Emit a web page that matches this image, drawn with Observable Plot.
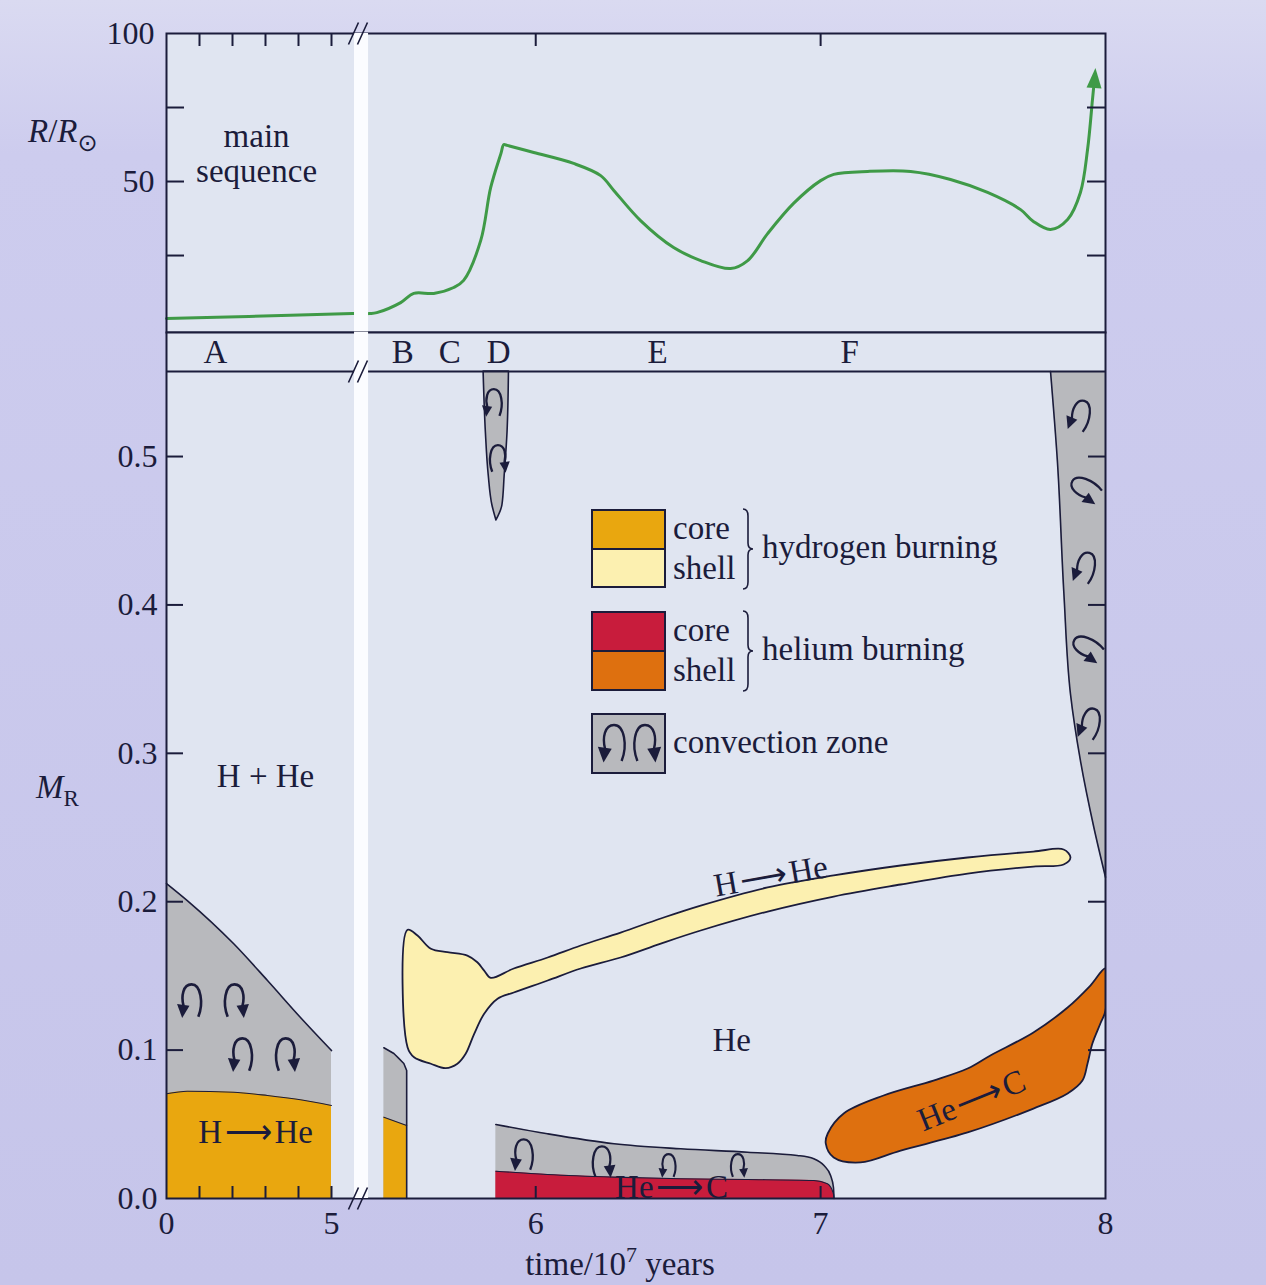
<!DOCTYPE html>
<html><head><meta charset="utf-8">
<script src="https://cdn.jsdelivr.net/npm/d3@7"></script>
<script src="https://cdn.jsdelivr.net/npm/@observablehq/plot@0.6"></script>
<style>
html,body{margin:0;padding:0;}
body{width:1266px;height:1285px;overflow:hidden;background:linear-gradient(180deg,#dadaf1 0%,#cdccee 12%,#c6c5ea 100%);font-family:"Liberation Serif","Times New Roman",serif;color:#1b1c3b;}
#stage{position:relative;width:1266px;height:1285px;}
#stage > svg{position:absolute;left:0;top:0;}
.lbl{position:absolute;white-space:nowrap;line-height:1;}
.box{position:absolute;border:2px solid #1b1c3b;box-sizing:border-box;}
</style></head><body><div id="stage"></div>
<script>
// ---------------- data ----------------
// time axis (10^7 yr) is broken: 0–5 compressed, then 5.42–8 expanded
const timeBreaks = [0, 5, 5.42, 8];
const breakGap = [5.248, 5.399];
const breakMark = 5.312;
const timeTicks = [1, 2, 3, 4, 5, 6, 7];
const timeLabels = [0, 5, 6, 7, 8];

// top panel: radius R/Rsun
const radiusTicks = [25, 50, 75];
const radiusLabels = [50, 100];
const radiusTime = [0, 2.5, 5.226, 5.414, 5.442, 5.526, 5.572, 5.642, 5.712, 5.747, 5.807, 5.842, 5.878, 5.888, 5.900, 5.993, 6.133, 6.228, 6.274, 6.368, 6.484, 6.579, 6.684, 6.744, 6.814, 6.905, 7.000, 7.046, 7.165, 7.316, 7.456, 7.586, 7.702, 7.747, 7.807, 7.867, 7.912, 7.937, 7.954, 7.958];
const radiusValue = [3.7, 4.4, 5.4, 5.4, 5.7, 9.1, 12.2, 12.2, 14.2, 16.6, 30.1, 48.0, 59.5, 62.5, 62.2, 59.8, 56.1, 52.0, 47.0, 36.8, 27.7, 23.3, 20.6, 23.3, 32.4, 42.6, 50.3, 52.4, 53.4, 53.4, 50.7, 46.3, 40.5, 36.5, 33.8, 37.2, 46.3, 60.8, 77.4, 81.4];
const radiusArrowTip = [7.962, 84.6];
const mainSeqLabel = ["main\nsequence", 2.73, 59.6];

// phases
const phaseLabels = ["A", "B", "C", "D", "E", "F"];
const phaseTime = [1.485, 5.533, 5.698, 5.870, 6.428, 7.102];

// bottom panel: mass coordinate M_R
const massTop = 0.5573;
const massTicks = [0.1, 0.2, 0.3, 0.4, 0.5];
const massLabels = [0, 0.1, 0.2, 0.3, 0.4, 0.5];

// main-sequence convective core and H-burning core
const msConvT = [0, 0.63, 2.03, 3.06, 4.06, 5];
const msConvM = [0.2123, 0.2008, 0.1718, 0.1469, 0.1220, 0.0997];
const msCoreT = [0, 0.63, 2.03, 3.06, 4.06, 5];
const msCoreM = [0.0706, 0.0723, 0.0716, 0.0694, 0.0665, 0.0627];
// phase B
const bConvT = [5.467, 5.502, 5.537, 5.547];
const bConvM = [0.1016, 0.0977, 0.0910, 0.0863];
const bCoreT = [5.467, 5.547];
const bCoreM = [0.0548, 0.0492];
// hydrogen-burning shell (closed outline)
const hShellT = [5.550,5.585,5.632,5.690,5.760,5.795,5.819,5.842,5.923,6.042,6.158,6.298,6.439,6.579,6.814,7.046,7.281,7.516,7.747,7.853,7.877,7.853,7.747,7.516,7.281,7.046,6.814,6.579,6.439,6.298,6.158,6.042,5.923,5.866,5.819,5.784,5.754,5.725,5.684,5.632,5.573,5.550];
const hShellM = [0.1811,0.1772,0.1683,0.1660,0.1637,0.1592,0.1536,0.1487,0.1550,0.1624,0.1705,0.1792,0.1887,0.1974,0.2096,0.2177,0.2244,0.2298,0.2338,0.2352,0.2298,0.2251,0.2237,0.2190,0.2116,0.2035,0.1934,0.1806,0.1718,0.1624,0.1550,0.1469,0.1388,0.1346,0.1245,0.1110,0.0975,0.0908,0.0878,0.0908,0.0952,0.1020];
// helium-burning core with convective zone
const heConvT = [5.860, 6.041, 6.275, 6.509, 6.743, 6.918, 6.976, 7.012, 7.035, 7.045, 7.047];
const heConvM = [0.0499, 0.0436, 0.0369, 0.0335, 0.0312, 0.0290, 0.0268, 0.0222, 0.0155, 0.0076, 0];
const heCoreT = [5.860, 6.041, 6.275, 6.509, 6.743, 6.976, 7.024, 7.045, 7.047];
const heCoreM = [0.0184, 0.0162, 0.0144, 0.0133, 0.0128, 0.0121, 0.0099, 0.0032, 0];
// helium-burning shell (closed outline)
const heShellT = [7.025,7.081,7.221,7.396,7.516,7.596,7.747,7.867,7.947,8.000,8.000,7.982,7.954,7.937,7.919,7.867,7.747,7.516,7.281,7.140,7.046,7.018];
const heShellM = [0.0438,0.0573,0.0694,0.0795,0.0876,0.0964,0.1119,0.1287,0.1435,0.1550,0.1267,0.1179,0.1044,0.0910,0.0795,0.0708,0.0606,0.0445,0.0323,0.0243,0.0276,0.0371];
// convective finger at D
const fingerM = [0.4569, 0.4670, 0.4872, 0.5162, 0.5573];
const fingerLeft = [5.862, 5.848, 5.835, 5.825, 5.817];
const fingerRight = [5.862, 5.883, 5.891, 5.901, 5.906];
// convective envelope (red giant)
const envM = [0.2165, 0.2502, 0.2951, 0.3401, 0.4075, 0.4973, 0.5573];
const envT = [8.000, 7.959, 7.912, 7.877, 7.854, 7.831, 7.807];

// convection arrows: position and spin
const msArrowT = [0.758, 2.06, 2.30, 3.61];
const msArrowM = [0.1334, 0.1334, 0.0970, 0.0970];
const msArrowSpin = ["ccw", "cw", "ccw", "cw"];
const dArrowT = [5.853, 5.867];
const dArrowM = [0.5364, 0.4987];
const dArrowSpin = ["ccw", "cw"];
const heArrowT = [5.958, 6.232, 6.467, 6.709];
const heArrowM = [0.0296, 0.0249, 0.0222, 0.0222];
const heArrowSpin = ["ccw", "cw", "ccw", "cw"];
const envArrowT = [7.912, 7.930, 7.930, 7.937, 7.947];
const envArrowM = [0.5276, 0.4784, 0.4252, 0.3713, 0.3201];
const envArrowSpin = ["ccw", "ccw", "ccw", "ccw", "ccw"];

// region labels
const arrowGlyph = "\u200A\u27F6\u200A";
const labelText = ["H + He", "He", "H" + arrowGlyph + "He", "H" + arrowGlyph + "He", "He" + arrowGlyph + "C", "He" + arrowGlyph + "C"];
const labelT = [3.0, 6.688, 2.70, 6.825, 7.530, 6.477];
const labelM = [0.2844, 0.1065, 0.0445, 0.2170, 0.0660, 0.0074];

// ---------------- styles ----------------
const ink = "#1b1c3b";
const font = '"Liberation Serif","Times New Roman",serif';
const panelFill = "#e0e5f1";
const green = "#3f9a47";
const cConv = "#b8b9bd", cHCore = "#e9a70f", cHShell = "#fcf0b0", cHeCore = "#c81c3c", cHeShell = "#de700f";
const W = 1266, H = 1285, X0 = 166, X1 = 1105;
const xScale = {type: "linear", domain: timeBreaks, range: [166, 331, 370, 1105], axis: null};
const frameW = X1 - X0;

const zip = (ts, ms, extra = {}) => ts.map((t, i) => ({t, m: ms[i], ...Object.fromEntries(Object.entries(extra).map(([k, v]) => [k, v[i]]))}));

// custom symbols
function arcSym(mirror) {
  const s = mirror ? -1 : 1;
  return {draw(ctx, size) {
    const r = Math.sqrt(size / Math.PI), X = v => s * v * r, Y = v => v * r;
    ctx.moveTo(X(0.40), Y(0.95));
    ctx.bezierCurveTo(X(0.72), Y(0.15), X(0.55), Y(-0.95), X(0.0), Y(-0.95));
    ctx.bezierCurveTo(X(-0.5), Y(-0.95), X(-0.62), Y(-0.25), X(-0.47), Y(0.3));
  }};
}
function headSym(mirror) {
  const s = mirror ? -1 : 1;
  return {draw(ctx, size) {
    const r = Math.sqrt(size / Math.PI), X = v => s * v * r, Y = v => v * r;
    ctx.moveTo(X(-0.85), Y(0.2));
    ctx.lineTo(X(-0.12), Y(0.3));
    ctx.lineTo(X(-0.55), Y(1.02));
    ctx.closePath();
  }};
}
const breakSym = {draw(ctx) { ctx.moveTo(-12, 11); ctx.lineTo(-2, -11); ctx.moveTo(-3, 11); ctx.lineTo(7, -11); }};
const tipSym = {draw(ctx) { ctx.moveTo(0, -11); ctx.lineTo(7.5, 9); ctx.lineTo(-7.5, 9); ctx.closePath(); }};

function convMarks(rows, r, sw = 2.2) {
  const out = [];
  for (const spin of ["ccw", "cw"]) {
    const sub = rows.filter(d => d.spin === spin);
    if (!sub.length) continue;
    out.push(Plot.dot(sub, {x: "t", y: "m", r, rotate: "rot", symbol: arcSym(spin === "cw"), stroke: ink, strokeWidth: sw, fill: "none"}));
    out.push(Plot.dot(sub, {x: "t", y: "m", r, rotate: "rot", symbol: headSym(spin === "cw"), fill: ink, stroke: "none"}));
  }
  return out;
}

// ---------------- top panel ----------------
const radiusRows = zip(radiusTime, radiusValue);
const topPlot = Plot.plot({
  width: W, height: H,
  marginLeft: X0, marginRight: W - X1, marginTop: 33, marginBottom: H - 332,
  style: {background: "transparent", fontFamily: font, color: ink, overflow: "visible"},
  x: xScale,
  y: {domain: [-1, 100], range: [332, 33], axis: null},
  marks: [
    Plot.frame({fill: panelFill, stroke: "none"}),
    Plot.text([mainSeqLabel], {x: d => d[1], y: d => d[2], text: d => d[0], fontSize: 33, lineHeight: 1.05, fill: ink}),
    Plot.line(radiusRows, {x: "t", y: "m", stroke: green, strokeWidth: 3, curve: "catmull-rom"}),
    Plot.dot([radiusArrowTip], {x: d => d[0], y: d => d[1], symbol: tipSym, fill: green, stroke: "none", rotate: 4}),
    Plot.tickY(radiusTicks, {insetRight: frameW - 18, stroke: ink, strokeWidth: 2}),
    Plot.tickY(radiusTicks, {insetLeft: frameW - 18, stroke: ink, strokeWidth: 2}),
    Plot.tickX(timeTicks, {insetBottom: 299 - 13, stroke: ink, strokeWidth: 2}),
    Plot.text(radiusLabels, {y: d => d, frameAnchor: "left", dx: -12, textAnchor: "end", lineAnchor: "middle", text: d => String(d), fontSize: 32, fill: ink}),
    Plot.frame({stroke: ink, strokeWidth: 2}),
    Plot.rect([breakGap], {x1: d => d[0], x2: d => d[1], fill: "#fbfcff"}),
    Plot.dot([breakMark], {x: d => d, frameAnchor: "top", symbol: breakSym, stroke: ink, strokeWidth: 1.6, fill: "none"})
  ]
});

// ---------------- bottom panel ----------------
const msConv = zip(msConvT, msConvM), msCore = zip(msCoreT, msCoreM);
const bConv = zip(bConvT, bConvM), bCore = zip(bCoreT, bCoreM);
const hShell = zip(hShellT, hShellM);
const heConv = zip(heConvT, heConvM), heCore = zip(heCoreT, heCoreM);
const heShell = zip(heShellT, heShellM);
const finger = fingerM.map((m, i) => ({m, l: fingerLeft[i], r: fingerRight[i]}));
const env = zip(envT, envM);
const tMax = timeBreaks[timeBreaks.length - 1];
const labels = zip(labelT, labelM, {text: labelText});

const bottomPlot = Plot.plot({
  width: W, height: H,
  marginLeft: X0, marginRight: W - X1, marginTop: 332, marginBottom: H - 1198,
  style: {background: "transparent", fontFamily: font, color: ink, overflow: "visible"},
  x: xScale,
  y: {domain: [0, massTop], range: [1198, 371], axis: null},
  marks: [
    Plot.frame({fill: panelFill, stroke: "none"}),
    // main sequence
    Plot.areaY(msConv, {x: "t", y: "m", fill: cConv, curve: "monotone-x"}),
    Plot.areaY(msCore, {x: "t", y: "m", fill: cHCore, curve: "monotone-x"}),
    Plot.line(msConv, {x: "t", y: "m", stroke: ink, strokeWidth: 1.6, curve: "monotone-x"}),
    Plot.line(msCore, {x: "t", y: "m", stroke: ink, strokeWidth: 1.1, curve: "monotone-x"}),
    // phase B
    Plot.areaY(bConv, {x: "t", y: "m", fill: cConv, curve: "monotone-x"}),
    Plot.areaY(bCore, {x: "t", y: "m", fill: cHCore}),
    Plot.line([...bConv, {t: bConvT[bConvT.length - 1], m: 0}], {x: "t", y: "m", stroke: ink, strokeWidth: 1.6}),
    Plot.line(bCore, {x: "t", y: "m", stroke: ink, strokeWidth: 1.1}),
    // H shell
    Plot.line(hShell, {x: "t", y: "m", fill: cHShell, stroke: ink, strokeWidth: 1.8, curve: "catmull-rom-closed"}),
    // He core + convection
    Plot.areaY(heConv, {x: "t", y: "m", fill: cConv, curve: "monotone-x"}),
    Plot.areaY(heCore, {x: "t", y: "m", fill: cHeCore, curve: "monotone-x"}),
    Plot.line(heConv, {x: "t", y: "m", stroke: ink, strokeWidth: 1.6, curve: "monotone-x"}),
    Plot.line(heCore, {x: "t", y: "m", stroke: ink, strokeWidth: 1.1, curve: "monotone-x"}),
    // He shell
    Plot.line(heShell, {x: "t", y: "m", fill: cHeShell, stroke: ink, strokeWidth: 1.8, curve: "catmull-rom-closed", clip: true}),
    // convective finger and envelope
    Plot.areaX(finger, {y: "m", x1: "l", x2: "r", fill: cConv, stroke: ink, strokeWidth: 1.6, curve: "monotone-y"}),
    Plot.areaX(env, {y: "m", x1: "t", x2: () => tMax, fill: cConv, curve: "monotone-y", clip: true}),
    Plot.line(env, {x: "t", y: "m", stroke: ink, strokeWidth: 1.6, curve: "monotone-y"}),
    // convection arrows
    ...convMarks(zip(msArrowT, msArrowM, {spin: msArrowSpin, rot: [0, 0, 0, 0]}), 17, 2.6),
    ...convMarks(zip(dArrowT, dArrowM, {spin: dArrowSpin, rot: [0, 0]}), 14, 2.3),
    ...convMarks(zip(heArrowT.slice(0, 2), heArrowM.slice(0, 2), {spin: heArrowSpin.slice(0, 2), rot: [0, 0]}), 16, 2.3),
    ...convMarks(zip(heArrowT.slice(2), heArrowM.slice(2), {spin: heArrowSpin.slice(2), rot: [0, 0]}), 12, 2.1),
    ...convMarks(zip(envArrowT, envArrowM, {spin: envArrowSpin, rot: [15, -60, 15, -60, 15]}), 16, 2.3),
    // labels
    Plot.text(labels.filter((d, i) => [0, 1, 2].includes(i)), {x: "t", y: "m", text: "text", fontSize: 33, fill: ink}),
    Plot.text([labels[3]], {x: "t", y: "m", text: "text", fontSize: 33, fill: ink, rotate: -10}),
    Plot.text([labels[4]], {x: "t", y: "m", text: "text", fontSize: 33, fill: ink, rotate: -22}),
    Plot.text([labels[5]], {x: "t", y: "m", text: "text", fontSize: 33, fill: ink}),
    // ticks
    Plot.tickY(massTicks, {insetRight: frameW - 17, stroke: ink, strokeWidth: 2}),
    Plot.tickY(massTicks, {insetLeft: frameW - 17, stroke: ink, strokeWidth: 2}),
    Plot.tickX(timeTicks, {insetTop: (1198 - 332) - 12, stroke: ink, strokeWidth: 2}),
    Plot.text(massLabels, {y: d => d, frameAnchor: "left", dx: -9, textAnchor: "end", lineAnchor: "middle", text: d => d.toFixed(1), fontSize: 32, fill: ink}),
    Plot.text(timeLabels, {x: d => d, frameAnchor: "bottom", dy: 25, lineAnchor: "middle", text: d => String(d), fontSize: 32, fill: ink}),
    Plot.frame({stroke: ink, strokeWidth: 2}),
    Plot.ruleY([massTop], {stroke: ink, strokeWidth: 2}),
    Plot.rect([breakGap], {x1: d => d[0], x2: d => d[1], fill: "#fbfcff"}),
    Plot.dot([massTop, 0], {x: () => breakMark, y: d => d, symbol: breakSym, stroke: ink, strokeWidth: 1.6, fill: "none"}),
    Plot.text(phaseLabels, {x: phaseTime, frameAnchor: "top", dy: 20, lineAnchor: "middle", text: d => d, fontSize: 33, fill: ink})
  ]
});

const stage = document.getElementById("stage");
stage.append(topPlot, bottomPlot);

// ---------------- html text & legend ----------------
function label(html, x, y, anchor = "start", size = 33, extra = "") {
  const d = document.createElement("div");
  d.className = "lbl";
  d.innerHTML = html;
  const tx = anchor === "middle" ? "-50%" : anchor === "end" ? "-100%" : "0";
  d.style.cssText = `left:${x}px;top:${y}px;font-size:${size}px;transform:translate(${tx},-50%);${extra}`;
  stage.append(d);
  return d;
}
label('<i>R</i>/<i>R</i><span style="font-size:24px;position:relative;top:9px;font-family:\'DejaVu Sans\'">\u2299</span>', 28, 131);
label('<i>M</i><span style="font-size:23px;position:relative;top:8px">R</span>', 36, 787);
label('time/10<span style="font-size:22px;position:relative;top:-13px">7</span> years', 620, 1264, "middle");

function box(x, y, w, h, fills) {
  const d = document.createElement("div");
  d.className = "box";
  d.style.cssText = `left:${x}px;top:${y}px;width:${w}px;height:${h}px;display:flex;flex-direction:column;`;
  fills.forEach((f, i) => {
    const c = document.createElement("div");
    c.style.cssText = `flex:1;background:${f};${i > 0 ? "border-top:2px solid " + ink + ";" : ""}`;
    d.append(c);
  });
  stage.append(d);
  return d;
}
function brace(x, y, h) {
  const ns = "http://www.w3.org/2000/svg";
  const s = document.createElementNS(ns, "svg");
  s.setAttribute("width", 14); s.setAttribute("height", h + 4);
  s.style.cssText = `position:absolute;left:${x}px;top:${y - 2}px;`;
  const p = document.createElementNS(ns, "path");
  const m = h / 2 + 2;
  p.setAttribute("d", `M1,2 Q6,2 6,9 L6,${m - 6} Q6,${m} 11,${m} Q6,${m} 6,${m + 6} L6,${h - 5} Q6,${h + 2} 1,${h + 2}`);
  p.setAttribute("fill", "none"); p.setAttribute("stroke", ink); p.setAttribute("stroke-width", 1.6);
  s.append(p); stage.append(s);
}
box(591, 509, 75, 79, [cHCore, cHShell]);
label("core", 673, 528); label("shell", 673, 568);
brace(742, 509, 80);
label("hydrogen burning", 762, 547);
box(591, 611, 75, 80, [cHeCore, cHeShell]);
label("core", 673, 630); label("shell", 673, 670);
brace(742, 611, 80);
label("helium burning", 762, 649);
const cb = box(591, 713, 75, 61, [cConv]);
label("convection zone", 673, 742);
{
  const ns = "http://www.w3.org/2000/svg";
  const s = document.createElementNS(ns, "svg");
  s.setAttribute("width", 71); s.setAttribute("height", 57);
  s.style.cssText = "position:absolute;left:0;top:0;";
  [[false, 21], [true, 52]].forEach(([mir, cx]) => {
    const a = d3.path(); arcSym(mir).draw(a, Math.PI * 19 * 19);
    const h = d3.path(); headSym(mir).draw(h, Math.PI * 19 * 19);
    const g = document.createElementNS(ns, "g");
    g.setAttribute("transform", `translate(${cx},28)`);
    const p1 = document.createElementNS(ns, "path");
    p1.setAttribute("d", a.toString()); p1.setAttribute("fill", "none"); p1.setAttribute("stroke", ink); p1.setAttribute("stroke-width", 2.4);
    const p2 = document.createElementNS(ns, "path");
    p2.setAttribute("d", h.toString()); p2.setAttribute("fill", ink);
    g.append(p1, p2); s.append(g);
  });
  cb.style.position = "absolute";
  cb.firstChild.style.position = "relative";
  cb.firstChild.append(s);
}
</script></body></html>
